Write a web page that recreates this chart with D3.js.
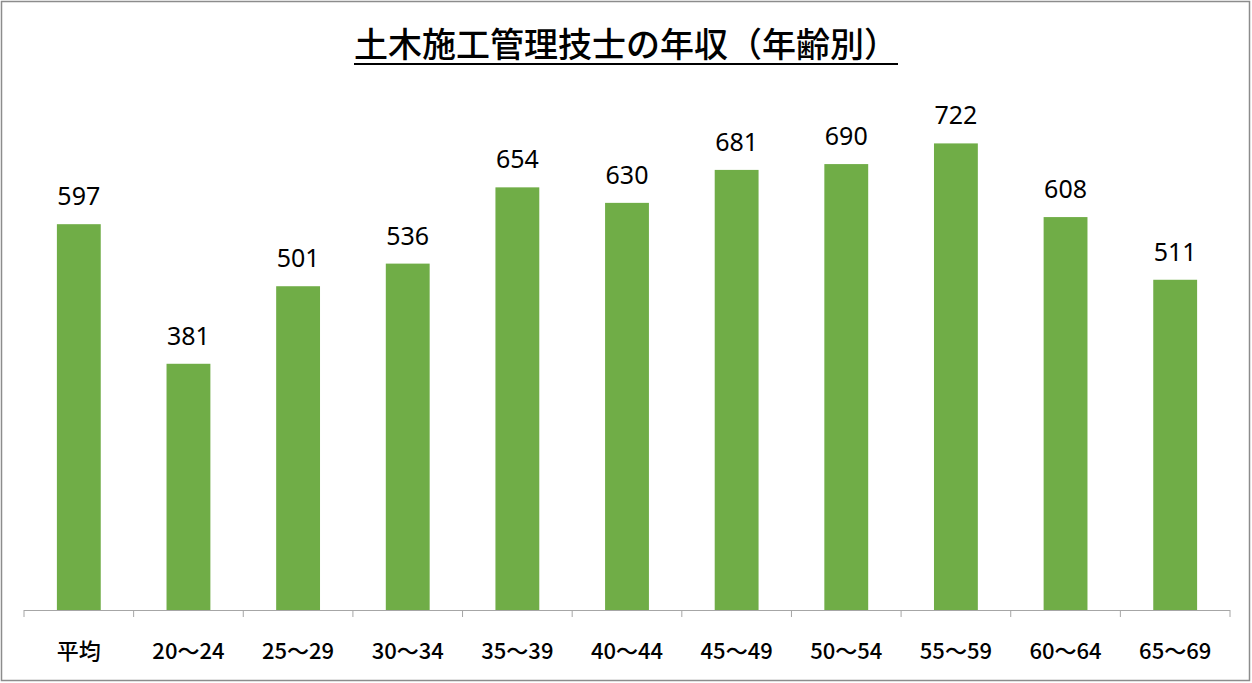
<!DOCTYPE html>
<html><head><meta charset="utf-8">
<script src="https://cdn.jsdelivr.net/npm/d3@7"></script>
<style>body{margin:0;background:#fff;font-family:"Noto Sans CJK JP","Noto Sans",sans-serif;}</style>
</head><body>
<script>
const categories = ["平均","20～24","25～29","30～34","35～39","40～44","45～49","50～54","55～59","60～64","65～69"];
const values = [597,381,501,536,654,630,681,690,722,608,511];
const title = "土木施工管理技士の年収（年齢別）";

const W = 1252, H = 683;
const svg = d3.select("body").append("svg").attr("width", W).attr("height", H);

svg.append("rect").attr("x", 1.5).attr("y", 1.5).attr("width", W - 4).attr("height", H - 4)
  .attr("fill", "#fff").attr("stroke", "#8c8c8c").attr("stroke-width", 1.5);

const t = svg.append("text").attr("x", 626).attr("y", 57).attr("text-anchor", "middle")
  .attr("font-size", 34).attr("font-weight", 500).attr("fill", "#000").text(title);
const bb = t.node().getBBox();
svg.append("line").attr("x1", bb.x).attr("x2", bb.x + bb.width).attr("y1", 64).attr("y2", 64)
  .attr("stroke", "#000").attr("stroke-width", 2);

const x = d3.scaleBand().domain(categories).range([24, 1230]).paddingInner(0.6).paddingOuter(0.3);
const y = d3.scaleLinear().domain([0, 800]).range([610, 93]);

svg.append("g").selectAll("rect").data(values).join("rect")
  .attr("x", (d, i) => x(categories[i])).attr("width", x.bandwidth())
  .attr("y", d => y(d)).attr("height", d => y(0) - y(d)).attr("fill", "#70ad47");

svg.append("g").selectAll("text").data(values).join("text")
  .attr("x", (d, i) => x(categories[i]) + x.bandwidth() / 2).attr("y", d => y(d) - 19)
  .attr("text-anchor", "middle").attr("font-size", 25).attr("font-family", "'Noto Sans', sans-serif")
  .text(d => d);

// axis
svg.append("line").attr("x1", 24).attr("x2", 1230).attr("y1", 610.5).attr("y2", 610.5).attr("stroke", "#a6a6a6");
svg.append("g").selectAll("line").data(d3.range(categories.length + 1)).join("line")
  .attr("x1", i => 24 + i * (1206 / categories.length)).attr("x2", i => 24 + i * (1206 / categories.length))
  .attr("y1", 610).attr("y2", 617).attr("stroke", "#a6a6a6");

svg.append("g").selectAll("text").data(categories).join("text")
  .attr("x", d => x(d) + x.bandwidth() / 2).attr("y", 659)
  .attr("text-anchor", "middle").attr("font-size", 22).attr("font-weight", 500).text(d => d);
</script>
</body></html>
